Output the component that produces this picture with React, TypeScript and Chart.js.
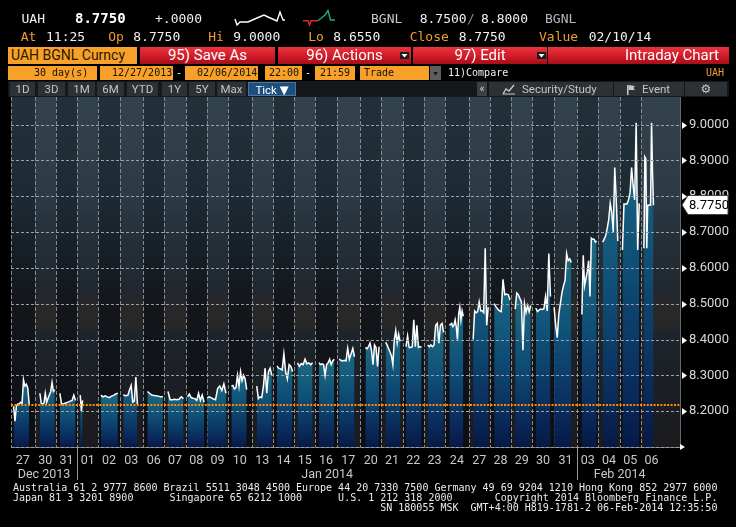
import React, { useEffect, useRef } from 'react';
import { Chart, registerables } from 'chart.js';

Chart.register(...registerables);

// ---------------- data ----------------
const dayDates = [
  '2013-12-27', '2013-12-30', '2013-12-31', '2014-01-01', '2014-01-02', '2014-01-03',
  '2014-01-06', '2014-01-07', '2014-01-08', '2014-01-09', '2014-01-10', '2014-01-13',
  '2014-01-14', '2014-01-15', '2014-01-16', '2014-01-17', '2014-01-20', '2014-01-21',
  '2014-01-22', '2014-01-23', '2014-01-24', '2014-01-27', '2014-01-28', '2014-01-29',
  '2014-01-30', '2014-01-31', '2014-02-03', '2014-02-04', '2014-02-05', '2014-02-06',
];
const dayLabels = ['27', '30', '31', '01', '02', '03', '06', '07', '08', '09', '10', '13', '14', '15', '16', '17',
  '20', '21', '22', '23', '24', '27', '28', '29', '30', '31', '03', '04', '05', '06'];
const monthLabels = ['Dec 2013', 'Jan 2014', 'Feb 2014'];

// trading session inside each day column (fraction of the column)
const sessionStart = [0.11, 0.25, 0.19, 0.15, 0.12, 0.16, 0.20, 0.17, 0.09, 0.02, 0.14, 0.24, 0.19, 0.16, 0.17,
  0.11, 0.25, 0.20, 0.16, 0.18, 0.18, 0.21, 0.20, 0.19, 0.16, 0.02, 0.22, 0.20, 0.13, 0.14];
const sessionEnd = [0.77, 0.95, 0.93, 0.26, 0.92, 0.76, 0.93, 0.90, 0.87, 0.90, 0.79, 0.95, 0.93, 0.87, 0.89,
  0.76, 0.89, 0.88, 0.89, 0.93, 0.77, 0.92, 0.95, 0.92, 0.85, 0.75, 0.92, 0.91, 0.92, 0.59];

// tick prices for each day
const d1227 = [8.214, 8.172, 8.215, 8.22, 8.22, 8.225, 8.222, 8.288, 8.27, 8.275, 8.265, 8.22];
const d1230 = [8.25, 8.222, 8.22, 8.222, 8.25, 8.225, 8.235, 8.245, 8.255, 8.28, 8.255, 8.26];
const d1231 = [8.25, 8.22, 8.22, 8.222, 8.224, 8.226, 8.228, 8.23, 8.245, 8.23];
const d0101 = [8.245, 8.20, 8.23];
const d0102 = [8.245, 8.24, 8.243, 8.24, 8.238, 8.242, 8.244, 8.248, 8.25];
const d0103 = [8.245, 8.244, 8.243, 8.245, 8.26, 8.272, 8.225, 8.228, 8.295, 8.22];
const d0106 = [8.255, 8.25, 8.245, 8.244, 8.243, 8.242, 8.24, 8.24];
const d0107 = [8.255, 8.232, 8.232, 8.233, 8.232, 8.233, 8.24, 8.235];
const d0108 = [8.24, 8.248, 8.238, 8.236, 8.235, 8.23, 8.25, 8.23, 8.245, 8.225];
const d0109 = [8.237, 8.24, 8.237, 8.234, 8.232, 8.263, 8.27, 8.258, 8.276, 8.25];
const d0110 = [8.27, 8.272, 8.262, 8.266, 8.30, 8.27, 8.31, 8.285, 8.30, 8.29, 8.26];
const d0113 = [8.27, 8.235, 8.24, 8.238, 8.27, 8.32, 8.25, 8.31, 8.32, 8.30];
const d0114 = [8.326, 8.32, 8.318, 8.315, 8.36, 8.31, 8.29, 8.33, 8.325, 8.31];
const d0115 = [8.335, 8.325, 8.333, 8.33, 8.345, 8.332, 8.335, 8.33, 8.335];
const d0116 = [8.335, 8.33, 8.332, 8.33, 8.30, 8.33, 8.335, 8.345, 8.33, 8.34, 8.345];
const d0117 = [8.345, 8.342, 8.34, 8.342, 8.34, 8.375, 8.345, 8.36, 8.375, 8.352];
const d0120 = [8.378, 8.374, 8.38, 8.39, 8.37, 8.33, 8.385, 8.378, 8.325, 8.38];
const d0121 = [8.392, 8.385, 8.375, 8.365, 8.355, 8.33, 8.40, 8.425, 8.39, 8.415, 8.395];
const d0122 = [8.38, 8.41, 8.378, 8.378, 8.38, 8.455, 8.38, 8.44, 8.378, 8.38, 8.378];
const d0123 = [8.385, 8.38, 8.385, 8.38, 8.385, 8.44, 8.445, 8.39, 8.44, 8.445, 8.42];
const d0124 = [8.44, 8.442, 8.445, 8.436, 8.44, 8.455, 8.435, 8.40, 8.47, 8.49, 8.455, 8.48, 8.465];
const d0127 = [8.40, 8.48, 8.475, 8.478, 8.505, 8.48, 8.48, 8.475, 8.655, 8.44, 8.49];
const d0128 = [8.50, 8.492, 8.485, 8.48, 8.478, 8.568, 8.525, 8.527, 8.525, 8.51];
const d0129 = [8.485, 8.53, 8.525, 8.515, 8.505, 8.37, 8.50, 8.475, 8.495, 8.478, 8.495];
const d0130 = [8.488, 8.478, 8.482, 8.485, 8.484, 8.486, 8.52, 8.48, 8.64, 8.52];
const d0131 = [8.49, 8.44, 8.405, 8.47, 8.50, 8.53, 8.55, 8.565, 8.64, 8.62, 8.625, 8.615];
const d0203 = [8.47, 8.635, 8.55, 8.57, 8.59, 8.62, 8.52, 8.683, 8.68, 8.68, 8.672, 8.675];
const d0204 = [8.672, 8.68, 8.69, 8.71, 8.735, 8.78, 8.755, 8.70, 8.88, 8.79, 8.675];
const d0205 = [8.65, 8.778, 8.778, 8.778, 8.79, 8.81, 8.88, 8.83, 8.79, 9.005, 8.65, 8.78];
const d0206 = [8.655, 8.91, 8.905, 8.655, 8.775, 8.775, 8.776, 8.775, 9.005, 8.87, 8.775];

const dayTicks = [d1227, d1230, d1231, d0101, d0102, d0103, d0106, d0107, d0108, d0109, d0110,
  d0113, d0114, d0115, d0116, d0117, d0120, d0121, d0122, d0123, d0124, d0127, d0128, d0129,
  d0130, d0131, d0203, d0204, d0205, d0206];

const yMajorTicks = [8.1, 8.2, 8.3, 8.4, 8.5, 8.6, 8.7, 8.8, 8.9, 9.0];
const yMinorTicks = [8.15, 8.25, 8.35, 8.45, 8.55, 8.65, 8.75, 8.85, 8.95, 9.05];
const yLabelled = [8.2, 8.3, 8.4, 8.5, 8.6, 8.7, 8.8, 8.9, 9.0];
const LAST_PRICE = 8.775;
const PREV_CLOSE = 8.2185;
const Y_MIN = 8.1;
const Y_MAX = 9.077;
const X_MAX = 31.5;
const FRIDAY_SPAN = 1.11;

// ---------------- derived positions (time axis) ----------------
const isFriday = (d: string) => new Date(d + 'T12:00:00Z').getUTCDay() === 5;
const daySpan = dayDates.map((d) => (isFriday(d) ? FRIDAY_SPAN : 1));
const dayStarts: number[] = [];
{
  let acc = 0;
  daySpan.forEach((s) => { dayStarts.push(acc); acc += s; });
}
const dayCenters = dayStarts.map((s, i) => s + daySpan[i] / 2);
const monthFirst: number[] = [];
dayDates.forEach((d, i) => { if (i === 0 || d.slice(0, 7) !== dayDates[i - 1].slice(0, 7)) monthFirst.push(i); });
const monthCenters = monthFirst.map((f, k) => {
  const a = dayStarts[f];
  const lastIdx = k < monthFirst.length - 1 ? monthFirst[k + 1] - 1 : dayDates.length - 1;
  const b = dayStarts[lastIdx] + daySpan[lastIdx];
  return (a + b) / 2;
});

const near = (v: number, arr: number[]) => arr.some((a) => Math.abs(a - v) < 1e-6);

const DARK_STOPS: [number, string][] = [
  [0, '#223139'], [0.29, '#1d2a33'], [0.41, '#182129'], [0.55, '#13191e'], [0.6, '#14161a'],
  [0.66, '#12151a'], [0.81, '#0f1217'], [1, '#0c0e13'],
];
const LIGHT_STOPS: [number, string][] = [
  [0, '#33434d'], [0.29, '#2c3a43'], [0.41, '#252f38'], [0.55, '#20282e'], [0.6, '#282829'],
  [0.65, '#282829'], [0.67, '#1e252c'], [0.8, '#1c2026'], [1, '#1b1b1e'],
];

const backdropPlugin = {
  id: 'backdrop',
  beforeDraw(chart: any) {
    const { ctx, chartArea: a, scales } = chart;
    const x = scales.x;
    const mk = (stops: [number, string][]) => {
      const g = ctx.createLinearGradient(0, a.top, 0, a.bottom);
      stops.forEach(([o, c]) => g.addColorStop(o, c));
      return g;
    };
    const dark = mk(DARK_STOPS);
    const light = mk(LIGHT_STOPS);
    ctx.save();
    dayStarts.forEach((s, i) => {
      const x0 = Math.round(x.getPixelForValue(s));
      const x1 = i < dayStarts.length - 1 ? Math.round(x.getPixelForValue(dayStarts[i + 1])) : a.right;
      ctx.fillStyle = i % 2 ? light : dark;
      ctx.fillRect(x0, a.top, x1 - x0, a.bottom - a.top);
    });
    ctx.fillStyle = '#3d4349';
    ctx.fillRect(a.left - 2, a.top - 2, a.right - a.left + 2, 2);
    ctx.restore();
  },
  beforeDatasetsDraw(chart: any) {
    const { ctx, chartArea: a, scales } = chart;
    ctx.save();
    ctx.strokeStyle = '#868a8e';
    ctx.lineWidth = 1;
    ctx.setLineDash([4, 2]);
    dayStarts.forEach((s) => {
      const px = Math.round(scales.x.getPixelForValue(s)) + 0.5;
      ctx.beginPath();
      ctx.moveTo(px, a.top);
      ctx.lineTo(px, a.bottom);
      ctx.stroke();
    });
    ctx.restore();
  },
  afterDatasetsDraw(chart: any) {
    const { ctx, chartArea: a, scales } = chart;
    ctx.save();
    // horizontal price grid, drawn over the mountain fill
    ctx.strokeStyle = '#9aa0a5';
    ctx.lineWidth = 1;
    ctx.setLineDash([3, 2]);
    yMajorTicks.forEach((v) => {
      const py = Math.round(scales.y.getPixelForValue(v)) + 0.5;
      ctx.beginPath();
      ctx.moveTo(a.left, py);
      ctx.lineTo(a.right, py);
      ctx.stroke();
    });
    // previous close
    const py = Math.round(scales.y.getPixelForValue(PREV_CLOSE));
    ctx.strokeStyle = '#ff8c00';
    ctx.lineWidth = 2;
    ctx.setLineDash([2, 1.4]);
    ctx.beginPath();
    ctx.moveTo(a.left, py);
    ctx.lineTo(a.right, py);
    ctx.stroke();
    ctx.restore();
  },
  afterDraw(chart: any) {
    const { ctx, chartArea: a, scales } = chart;
    const y = scales.y;
    ctx.save();
    // month separators below the axis
    ctx.strokeStyle = '#9a9a9a';
    ctx.lineWidth = 1;
    monthFirst.slice(1).forEach((f) => {
      const px = Math.round(scales.x.getPixelForValue(dayStarts[f])) + 0.5;
      ctx.beginPath();
      ctx.moveTo(px, a.bottom);
      ctx.lineTo(px, a.bottom + 33);
      ctx.stroke();
    });
    // major tick triangles
    ctx.fillStyle = '#ffffff';
    yLabelled.forEach((v) => {
      const py = Math.round(y.getPixelForValue(v)) + 0.5;
      ctx.beginPath();
      ctx.moveTo(a.right + 2, py - 3.5);
      ctx.lineTo(a.right + 7, py);
      ctx.lineTo(a.right + 2, py + 3.5);
      ctx.closePath();
      ctx.fill();
    });
    // x axis end arrow
    ctx.beginPath();
    ctx.moveTo(a.right, a.bottom - 3);
    ctx.lineTo(a.right + 5, a.bottom);
    ctx.lineTo(a.right, a.bottom + 3);
    ctx.closePath();
    ctx.fill();
    // last price tag
    const py = Math.round(y.getPixelForValue(LAST_PRICE));
    ctx.beginPath();
    ctx.moveTo(a.right + 2, py);
    ctx.lineTo(a.right + 8, py - 9.5);
    ctx.lineTo(a.right + 48, py - 9.5);
    ctx.lineTo(a.right + 48, py + 9.5);
    ctx.lineTo(a.right + 8, py + 9.5);
    ctx.closePath();
    ctx.fillStyle = '#ffffff';
    ctx.fill();
    ctx.strokeStyle = '#444';
    ctx.stroke();
    ctx.fillStyle = '#000000';
    ctx.font = '13px Roboto';
    ctx.textBaseline = 'middle';
    ctx.textAlign = 'left';
    ctx.fillText(LAST_PRICE.toFixed(4), a.right + 9, py + 1);
    ctx.restore();
  },
};

function makeFill(peak: number) {
  return (c: any) => {
    const chart = c.chart;
    const area = chart.chartArea;
    if (!area || !chart.scales.y) return 'rgba(0,0,0,0)';
    const top = chart.scales.y.getPixelForValue(peak);
    const g = chart.ctx.createLinearGradient(0, top, 0, area.bottom);
    g.addColorStop(0, '#1c6c84');
    g.addColorStop(0.45, '#0f4e76');
    g.addColorStop(0.8, '#0a2d5e');
    g.addColorStop(1, '#071946');
    return g;
  };
}

function BloombergChart() {
  const ref = useRef<HTMLCanvasElement | null>(null);
  useEffect(() => {
    if (!ref.current) return;
    const datasets = dayTicks.map((vals, i) => {
      const s = dayStarts[i] + sessionStart[i] * daySpan[i];
      const e = dayStarts[i] + sessionEnd[i] * daySpan[i];
      const n = vals.length;
      return {
        data: vals.map((v, k) => ({ x: n === 1 ? s : s + ((e - s) * k) / (n - 1), y: v })),
        xAxisID: 'x',
        yAxisID: 'y',
        borderColor: '#ffffff',
        borderWidth: 1.5,
        pointRadius: 0,
        tension: 0,
        fill: 'start',
        backgroundColor: makeFill(Math.max(...vals)),
      };
    });
    const xfont = { family: 'Roboto', size: 12.5 };
    const yfont = { family: 'Roboto', size: 13 };
    const chart = new Chart(ref.current, {
      type: 'line',
      data: { datasets } as any,
      plugins: [backdropPlugin],
      options: {
        responsive: false,
        animation: false,
        events: [],
        layout: { padding: { left: 11, top: 97, right: 0, bottom: 45 } },
        plugins: { legend: { display: false }, tooltip: { enabled: false } },
        scales: {
          x: {
            type: 'linear', axis: 'x', position: 'bottom', weight: 0, min: 0, max: X_MAX,
            afterBuildTicks: (axis: any) => { axis.ticks = dayCenters.map((v) => ({ value: v })); },
            afterFit: (axis: any) => { axis.height = 18; },
            grid: { display: false },
            border: { display: true, color: '#707070' },
            ticks: {
              autoSkip: false, maxRotation: 0, minRotation: 0, padding: -1.5, color: '#c8c8c8', font: xfont,
              callback: (_v: any, i: number) => dayLabels[i],
            },
          },
          xm: {
            type: 'linear', axis: 'x', position: 'bottom', weight: 1, min: 0, max: X_MAX,
            afterBuildTicks: (axis: any) => { axis.ticks = monthCenters.map((v) => ({ value: v })); },
            afterFit: (axis: any) => { axis.height = 17; },
            grid: { display: false },
            border: { display: false },
            ticks: {
              autoSkip: false, maxRotation: 0, minRotation: 0, padding: -5.5, color: '#c8c8c8', font: xfont,
              callback: (_v: any, i: number) => monthLabels[i],
            },
          },
          y: {
            type: 'linear', position: 'right', min: Y_MIN, max: Y_MAX,
            afterBuildTicks: (axis: any) => {
              axis.ticks = [...yMajorTicks, ...yMinorTicks].sort((p, q) => p - q).map((v) => ({ value: v }));
            },
            afterFit: (axis: any) => { axis.width = 56; },
            grid: {
              drawOnChartArea: false,
              color: 'rgba(0,0,0,0)',
              tickColor: (c: any) => (c.tick && near(c.tick.value, yMinorTicks) ? '#8a8a8a' : 'rgba(0,0,0,0)'),
              tickLength: 4,
              drawTicks: true,
            },
            border: { display: true, color: '#6a6a6a' },
            ticks: {
              padding: 5, color: '#d8d8d8', font: yfont,
              callback: (v: any) => (near(Number(v), yLabelled) ? Number(v).toFixed(4) : ''),
            },
          },
        },
      } as any,
    });
    return () => chart.destroy();
  }, []);
  return <canvas ref={ref} width={736} height={527} style={{ position: 'absolute', left: 0, top: 0, width: 736, height: 527 }} />;
}

// ---------------- header / footer ----------------
const MONO = '"DejaVu Sans Mono", "Liberation Mono", monospace';
const SANS = 'Roboto, "Noto Sans", "DejaVu Sans", sans-serif';
const ORANGE = '#f39c2d';
const BOX_ORANGE = '#f7a12a';
const RED_BG = 'linear-gradient(#ea3440 0%, #d21e2a 50%, #a60e18 100%)';

function T(props: any) {
  const { x, y, size = 13, color = '#f0f0f0', bold = false, font = MONO, children, w, align } = props;
  return (
    <div style={{
      position: 'absolute', left: x, top: y, fontFamily: font, fontSize: size, lineHeight: `${size}px`,
      color, fontWeight: bold ? 700 : 400, whiteSpace: 'pre', width: w, textAlign: align,
    }}>{children}</div>
  );
}

function Box(props: any) {
  const { x, y, w, h, bg, children, color = '#1a1000', size = 10, font = MONO, pl = 0, align = 'left', pr = 0, border } = props;
  return (
    <div style={{
      position: 'absolute', left: x, top: y, width: w, height: h, background: bg, color, fontFamily: font,
      fontSize: size, lineHeight: `${h}px`, whiteSpace: 'pre', paddingLeft: pl, paddingRight: pr, boxSizing: 'border-box',
      textAlign: align, overflow: 'hidden', border,
    }}>{children}</div>
  );
}

function DropIcon({ x, y }: any) {
  return (
    <svg style={{ position: 'absolute', left: x, top: y }} width={9} height={7}>
      <rect x={0} y={0} width={9} height={7} fill="#1c1c1c" />
      <polygon points="1.5,2 7.5,2 4.5,5.5" fill="#ffffff" />
    </svg>
  );
}

const footer1 = 'Australia 61 2 9777 8600 Brazil 5511 3048 4500 Europe 44 20 7330 7500 Germany 49 69 9204 1210 Hong Kong 852 2977 6000';
const footer2 = 'Japan 81 3 3201 8900      Singapore 65 6212 1000      U.S. 1 212 318 2000       Copyright 2014 Bloomberg Finance L.P.';
const footer3 = '                                                             SN 180055 MSK  GMT+4:00 H819-1781-2 06-Feb-2014 12:35:50';

const btns: [number, number, string][] = [
  [10, 25, '1D'], [38, 27, '3D'], [68, 27, '1M'], [97, 27, '6M'], [127, 31, 'YTD'],
  [162, 25, '1Y'], [189, 26, '5Y'], [217, 29, 'Max'],
];

export default function App() {
  return (
    <div style={{ position: 'fixed', left: 0, top: 0, width: 736, height: 527, background: '#000', overflow: 'hidden' }}>
      <BloombergChart />

      {/* row 1 */}
      <T x={21.5} y={11.7}>UAH</T>
      <T x={75} y={10.9} size={14} bold color="#ffffff">8.7750</T>
      <T x={155} y={11.7}>+.0000</T>
      <svg style={{ position: 'absolute', left: 0, top: 0 }} width={340} height={30}>
        <polyline points="235,19 237,25 240,22 248,22 257,18 264,15 268,17 277,21 280,12 283,20 285,20"
          fill="none" stroke="#ffffff" strokeWidth={1.4} />
        <polyline points="303,20.7 308,20.7 309.5,25 311,20.7 318,20.7" fill="none" stroke="#e0262e" strokeWidth={1.4} />
        <polyline points="318,20.7 325,15 328,10.5 330.5,20 335,20" fill="none" stroke="#1fa58a" strokeWidth={1.4} />
      </svg>
      <T x={371} y={11.7} color="#c8c8c8">BGNL</T>
      <T x={419.7} y={11.7}>8.7500</T>
      <T x={467} y={11.7} color="#8a8a8a">/</T>
      <T x={481} y={11.7}>8.8000</T>
      <T x={545} y={11.7} color="#b8b8b8">BGNL</T>

      {/* row 2 */}
      <T x={20.7} y={29.7} color={ORANGE}>At</T>
      <T x={46} y={29.7}>11:25</T>
      <T x={108.3} y={29.7} color={ORANGE}>Op</T>
      <T x={133.3} y={29.7}>8.7750</T>
      <T x={208.3} y={29.7} color={ORANGE}>Hi</T>
      <T x={233.3} y={29.7}>9.0000</T>
      <T x={308.3} y={29.7} color={ORANGE}>Lo</T>
      <T x={333.3} y={29.7}>8.6550</T>
      <T x={409.7} y={29.7} color={ORANGE}>Close</T>
      <T x={458.7} y={29.7}>8.7750</T>
      <T x={539} y={29.7} color={ORANGE}>Value</T>
      <T x={588.7} y={29.7}>02/10/14</T>

      {/* row 3 */}
      <Box x={8} y={46.5} w={129} h={17.5} bg={BOX_ORANGE} font={SANS} size={14} color="#2a1800" pl={3}>UAH BGNL Curncy</Box>
      <Box x={140} y={46.5} w={135} h={17.5} bg={RED_BG} font={SANS} size={15} color="#ffffff" align="center">95) Save As</Box>
      <Box x={278} y={46.5} w={133} h={17.5} bg={RED_BG} font={SANS} size={15} color="#ffffff" align="center">96) Actions</Box>
      <DropIcon x={400} y={51.5} />
      <Box x={413} y={46.5} w={134} h={17.5} bg={RED_BG} font={SANS} size={15} color="#ffffff" align="center">97) Edit</Box>
      <DropIcon x={537} y={51.5} />
      <Box x={548} y={46.5} w={181} h={17.5} bg={RED_BG} font={SANS} size={15} color="#ffffff" align="right" pr={10}>Intraday Chart</Box>

      {/* row 4 */}
      <Box x={8} y={66} w={89} h={14} bg={BOX_ORANGE} pl={26}>30 day(s)</Box>
      <Box x={100} y={66} w={73} h={14} bg={BOX_ORANGE} pl={12}>12/27/2013</Box>
      <T x={176} y={68} size={10} color="#ffffff">-</T>
      <Box x={185} y={66} w={73} h={14} bg={BOX_ORANGE} pl={12}>02/06/2014</Box>
      <Box x={265} y={66} w={37} h={14} bg={BOX_ORANGE} pl={4}>22:00</Box>
      <T x={305} y={68} size={10} color="#ffffff">-</T>
      <Box x={315} y={66} w={40} h={14} bg={BOX_ORANGE} pl={5}>21:59</Box>
      <Box x={360} y={66} w={69} h={14} bg={BOX_ORANGE} pl={4}>Trade</Box>
      <svg style={{ position: 'absolute', left: 430, top: 66 }} width={11} height={14}>
        <rect x={0} y={0} width={11} height={14} fill="#5e5e5e" />
        <polygon points="3,6 8,6 5.5,9.5" fill="#1a1a1a" />
      </svg>
      <Box x={448} y={66} w={60} h={14} color="#f0f0f0">11)Compare</Box>
      <Box x={706} y={66} w={24} h={14} color={ORANGE}>UAH</Box>

      {/* row 5 */}
      <div style={{ position: 'absolute', left: 8, top: 81, width: 721, height: 16, background: '#151719' }} />
      {btns.map(([x, w, t]) => (
        <Box key={t} x={x} y={82} w={w} h={14} bg="#2c3135" font={SANS} size={11.5} color="#bfc5ca" align="center">{t}</Box>
      ))}
      <Box x={248} y={82} w={48} h={14} bg="#1d4e7c" font={SANS} size={11.5} color="#ffffff" align="center" border="1px solid #4277aa">Tick ▼</Box>
      <Box x={477} y={82} w={10} h={14} bg="#3b4045" font={SANS} size={11} color="#d0d0d0" align="center">«</Box>
      <Box x={489} y={82} w={124} h={14} bg="#2c3135" font={SANS} size={11.5} color="#bfc5ca" pl={33}>Security/Study</Box>
      <svg style={{ position: 'absolute', left: 502, top: 84 }} width={14} height={11}>
        <polyline points="1,10 4,5 7,7 12,1" fill="none" stroke="#c8c8c8" strokeWidth={1.4} />
        <line x1={1} y1={10} x2={13} y2={10} stroke="#c8c8c8" strokeWidth={1} />
      </svg>
      <Box x={614} y={82} w={70} h={14} bg="#2c3135" font={SANS} size={11.5} color="#bfc5ca" pl={28}>Event</Box>
      <svg style={{ position: 'absolute', left: 626, top: 84 }} width={10} height={11}>
        <rect x={1} y={1} width={1.5} height={10} fill="#c8c8c8" />
        <polygon points="2.5,1 9,2 7.5,4 9,6 2.5,6" fill="#c8c8c8" />
      </svg>
      <Box x={685} y={82} w={42} h={14} bg="#2c3135" font='"DejaVu Sans", sans-serif' size={12} color="#c8c8c8" align="center">⚙</Box>

      {/* footer */}
      <T x={13} y={482.5} size={10} color="#ececec">{footer1}</T>
      <T x={13} y={492.5} size={10} color="#ececec">{footer2}</T>
      <T x={13} y={502.5} size={10} color="#ececec">{footer3}</T>
    </div>
  );
}
